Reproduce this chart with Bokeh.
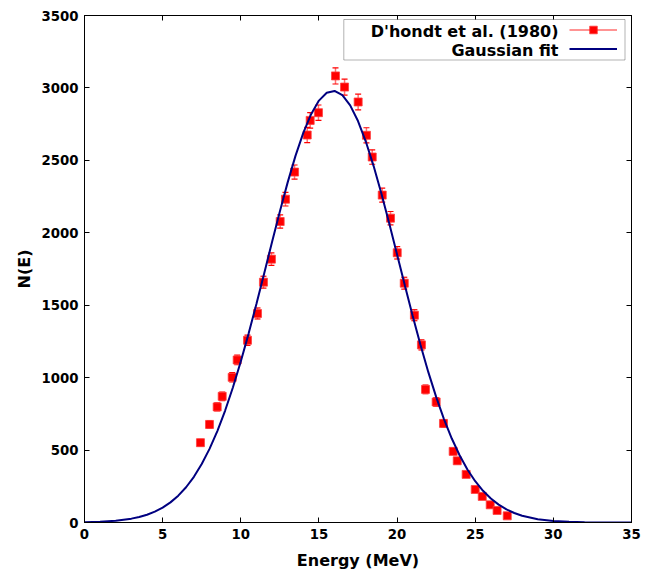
import numpy as np
from bokeh.plotting import figure
from bokeh.models import (Range1d, LinearAxis, FixedTicker, Legend, LegendItem,
                          Label, BoxAnnotation, ColumnDataSource, CustomJSTickFormatter)
from bokeh.embed import file_html
from bokeh.resources import INLINE

# ---- data ----
energy = [7.42, 8.00, 8.49, 8.81, 9.45, 9.77, 10.43, 11.07, 11.45, 11.96,
          12.52, 12.86, 13.44, 14.25, 14.44, 14.97, 16.06, 16.64, 17.51, 18.04,
          18.41, 19.05, 19.58, 20.01, 20.46, 21.11, 21.56, 21.82, 22.50, 22.97,
          23.59, 23.85, 24.42, 25.00, 25.45, 25.96, 26.40, 27.05]
counts = [551, 677, 798, 871, 1002, 1122, 1258, 1443, 1659, 1818,
          2078, 2232, 2419, 2675, 2776, 2829, 3083, 3006, 2903, 2673,
          2523, 2260, 2101, 1862, 1652, 1431, 1226, 919, 832, 684,
          491, 426, 332, 228, 180, 122, 83, 46]
errors = [23, 26, 28, 30, 32, 33, 35, 38, 41, 43,
          46, 47, 49, 52, 53, 53, 56, 55, 54, 52,
          50, 48, 46, 43, 41, 38, 35, 30, 29, 26,
          22, 21, 18, 15, 13, 11, 9, 7]

fit_x = [0, 1, 2, 3, 3.5, 4, 4.5, 5, 5.5, 6, 6.5, 7, 7.5, 8, 8.5, 9, 9.5, 10,
         10.5, 11, 11.5, 12, 12.5, 13, 13.5, 14, 14.5, 15, 15.5, 16, 16.5, 17,
         17.5, 18, 18.5, 19, 19.5, 20, 20.5, 21, 21.5, 22, 22.5, 23, 23.5, 24,
         24.5, 25, 25.5, 26, 26.5, 27, 27.5, 28, 29, 30, 31, 32, 33, 34, 35]
fit_y = [2.3, 5.5, 12.5, 26.6, 38.2, 53.8, 74.9, 102.7, 138.9, 185.3, 243.5,
         315.6, 403.3, 508.1, 631.1, 772.9, 933.3, 1111.0, 1304.0, 1508.9,
         1721.3, 1936.3, 2147.3, 2348.0, 2531.1, 2690.2, 2819.0, 2912.4,
         2966.5, 2979.2, 2949.7, 2879.5, 2771.4, 2629.8, 2460.4, 2269.4,
         2063.9, 1850.5, 1635.8, 1425.7, 1225.1, 1037.9, 866.9, 714.0, 579.7,
         464.0, 366.3, 285.0, 218.7, 165.4, 123.3, 90.7, 65.7, 47.0, 23.0,
         10.6, 4.7, 1.9, 0.75, 0.28, 0.1]

x_ticks = [0, 5, 10, 15, 20, 25, 30, 35]
y_ticks = [0, 500, 1000, 1500, 2000, 2500, 3000, 3500]
series_label = "D'hondt et al. (1980)"
fit_label = "Gaussian fit"

# ---- layout ----
W, H = 649, 573
FL, FR, FT, FB = 84, 631, 15, 522
X0, X1, Y0, Y1 = 0, 35, 0, 3500

def sx(px):
    return X0 + (px - FL) * (X1 - X0) / (FR - FL)

def sy(py):
    return Y0 + (FB - py) * (Y1 - Y0) / (FB - FT)

FONT = "DejaVu Sans"

p = figure(width=W, height=H, output_backend="svg", toolbar_location=None,
           x_range=Range1d(X0, X1), y_range=Range1d(Y0, Y1),
           min_border_left=FL, min_border_right=W - FR,
           min_border_top=FT, min_border_bottom=H - FB,
           background_fill_color="white", border_fill_color="white")
p.outline_line_color = "black"
p.outline_line_width = 1
p.xgrid.visible = False
p.ygrid.visible = False

def style_axis(ax, ticks, show_labels):
    ax.ticker = FixedTicker(ticks=ticks)
    ax.major_tick_in = 5
    ax.major_tick_out = 0
    ax.minor_tick_in = 0
    ax.minor_tick_out = 0
    ax.axis_line_color = "black"
    ax.axis_line_width = 1
    ax.major_tick_line_color = "black"
    ax.major_tick_line_width = 1
    ax.major_label_text_font = FONT
    ax.major_label_text_font_style = "bold"
    ax.major_label_text_color = "black"
    if show_labels:
        ax.major_label_text_font_size = "13.3px"
        ax.major_label_standoff = 6
    else:
        ax.formatter = CustomJSTickFormatter(code="return ''")
        ax.major_label_text_font_size = "1px"
        ax.major_label_standoff = 0

style_axis(p.xaxis[0], x_ticks, True)
style_axis(p.yaxis[0], y_ticks, True)
p.xaxis[0].axis_label = "Energy (MeV)"
p.yaxis[0].axis_label = "N(E)"
for ax in (p.xaxis[0], p.yaxis[0]):
    ax.axis_label_text_font = FONT
    ax.axis_label_text_font_style = "bold"
    ax.axis_label_text_font_size = "16px"
    ax.axis_label_text_color = "black"
p.xaxis[0].axis_label_standoff = 9
p.yaxis[0].axis_label_standoff = 4

top_ax = LinearAxis()
style_axis(top_ax, x_ticks, False)
p.add_layout(top_ax, "above")
right_ax = LinearAxis()
style_axis(right_ax, y_ticks, False)
p.add_layout(right_ax, "right")

# ---- data glyphs ----
lo = [c - e for c, e in zip(counts, errors)]
hi = [c + e for c, e in zip(counts, errors)]
src = ColumnDataSource(dict(x=energy, y=counts, lo=lo, hi=hi))

err_r = p.segment(x0="x", y0="lo", x1="x", y1="hi", source=src,
                  line_color="#ff6f6f", line_width=1.5)
cap_hi = p.scatter(x="x", y="hi", source=src, marker="dash", size=6,
                   line_color="red", line_width=1.2)
cap_lo = p.scatter(x="x", y="lo", source=src, marker="dash", size=6,
                   line_color="red", line_width=1.2)
pts = p.scatter(x="x", y="y", source=src, marker="square", size=8,
                fill_color="red", line_color="#ff4040", line_width=0.8)

fit_src = ColumnDataSource(dict(x=fit_x, y=fit_y))
fit_r = p.line(x="x", y="y", source=fit_src, line_color="#000080", line_width=2)

# ---- legend (text on the left, sample on the right, as in the reference) ----
box = BoxAnnotation(left=sx(343.3), right=sx(624.5), top=sy(19), bottom=sy(59.5),
                    fill_color="white", fill_alpha=1.0,
                    line_color="black", line_width=1)
p.add_layout(box)

legend = Legend(items=[LegendItem(label=" ", renderers=[err_r, cap_hi, cap_lo, pts]),
                       LegendItem(label=" ", renderers=[fit_r])],
                location="top_right", margin=5, padding=1, spacing=0,
                glyph_width=48, glyph_height=19, label_height=19,
                label_width=9, label_standoff=0,
                label_text_font_size="6px",
                border_line_color=None, background_fill_alpha=0)
p.add_layout(legend)

for txt, ypx in ((series_label, 30.5), (fit_label, 49.5)):
    p.add_layout(Label(x=sx(558), y=sy(ypx), text=txt, text_align="right",
                       text_baseline="middle", text_font=FONT,
                       text_font_style="bold", text_font_size="16px",
                       text_color="black"))

open("out.html", "w").write(file_html(p, INLINE))
